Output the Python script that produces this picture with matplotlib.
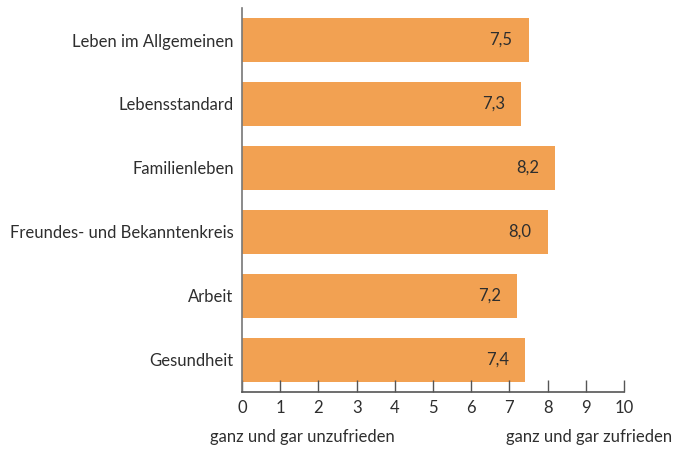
import matplotlib
matplotlib.use("Agg")
import matplotlib.pyplot as plt

# Data
categories = ["Leben im Allgemeinen", "Lebensstandard", "Familienleben",
              "Freundes- und Bekanntenkreis", "Arbeit", "Gesundheit"]
values = [7.5, 7.3, 8.2, 8.0, 7.2, 7.4]
value_labels = ["7,5", "7,3", "8,2", "8,0", "7,2", "7,4"]
ticks = list(range(0, 11))

plt.rcParams['font.family'] = ['Lato', 'DejaVu Sans']
text_color = '#2e2e2e'
bar_color = '#F2A152'

fig = plt.figure(figsize=(6.74, 4.51), dpi=100)
ax = fig.add_axes([242/674, 1 - 392/451, (624 - 242)/674, (392 - 8)/451])

y = list(range(len(categories)))
ax.barh(y, values, height=0.7, color=bar_color)
for yi, v, lab in zip(y, values, value_labels):
    ax.text(v - 0.42, yi, lab, ha='right', va='center', fontsize=12, color=text_color)

ax.set_xlim(0, 10)
ax.set_ylim(len(categories) - 0.5, -0.5)
ax.set_yticks(y)
ax.set_yticklabels(categories, fontsize=12, color=text_color)
ax.set_xticks(ticks)
ax.set_xticklabels([str(t) for t in ticks], fontsize=12, color=text_color)
ax.tick_params(axis='y', length=0, pad=6)
ax.tick_params(axis='x', direction='in', length=9, width=1, color='#555555', pad=6)

for s in ['top', 'right']:
    ax.spines[s].set_visible(False)
ax.spines['left'].set_color('#777777')
ax.spines['bottom'].set_color('#555555')
ax.spines['left'].set_linewidth(1.2)
ax.spines['bottom'].set_linewidth(1.2)

fig.text(210/674, 1 - 437/451, "ganz und gar unzufrieden", ha='left', va='center',
         fontsize=12, color=text_color)
fig.text(672/674, 1 - 437/451, "ganz und gar zufrieden", ha='right', va='center',
         fontsize=12, color=text_color)

fig.savefig("out.png", dpi=100)
